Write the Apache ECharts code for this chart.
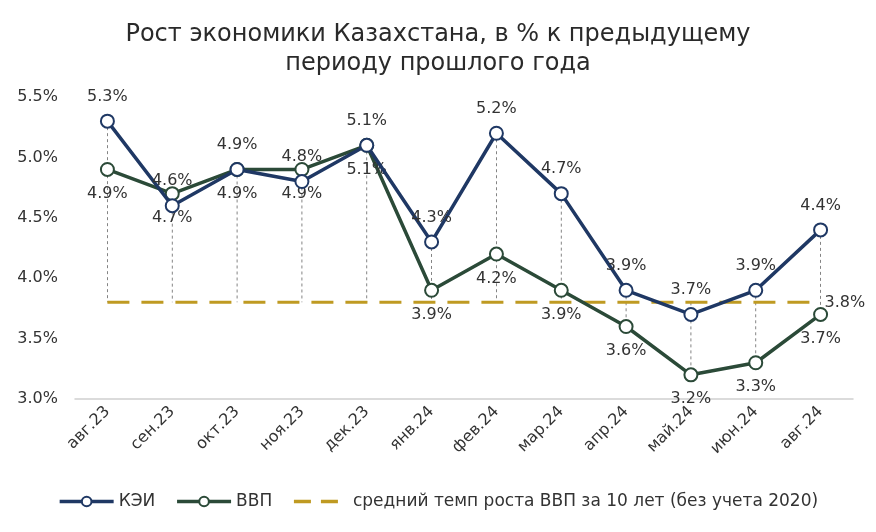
<!DOCTYPE html>
<html><head><meta charset="utf-8">
<script src="https://cdn.jsdelivr.net/npm/echarts@6/dist/echarts.min.js"></script>
<style>html,body{margin:0;padding:0;background:#fff}#c{width:876px;height:532px}</style>
</head><body><div id="c"></div>
<script>
const categories = ['авг.23','сен.23','окт.23','ноя.23','дек.23','янв.24','фев.24','мар.24','апр.24','май.24','июн.24','авг.24'];
const keiValues = [5.3,4.6,4.9,4.8,5.1,4.3,5.2,4.7,3.9,3.7,3.9,4.4];
const gdpValues = [4.9,4.7,4.9,4.9,5.1,3.9,4.2,3.9,3.6,3.2,3.3,3.7];
const avgValues = [3.8,3.8,3.8,3.8,3.8,3.8,3.8,3.8,3.8,3.8,3.8,3.8];
const seriesNames = ['КЭИ','ВВП','средний темп роста ВВП за 10 лет (без учета 2020)'];
const titleText = 'Рост экономики Казахстана, в % к предыдущему\nпериоду прошлого года';

const FONT = 'DejaVu Sans';
const navy = '#1F3864', green = '#2B4A38', gold = '#BF9A22';
const dropData = categories.map((c,i)=>{
  const v=[keiValues[i],gdpValues[i],avgValues[i]];
  return [i, Math.max(...v), Math.min(...v)];
});
const lbl = (pos)=>({show:true,position:pos,distance:9,fontFamily:FONT,fontSize:16,color:'#333',
  formatter:p=>p.value.toFixed(1)+'%'});
const chart = echarts.init(document.getElementById('c'));
chart.setOption({
  animation:false,
  title:{text:titleText,left:'center',top:15,textStyle:{fontFamily:FONT,fontSize:24,fontWeight:'normal',color:'#2a2a2a',lineHeight:29}},
  grid:{left:75,right:23,top:97,bottom:133},
  legend:{bottom:17,left:'center',itemWidth:54,itemHeight:12,itemGap:20,
    textStyle:{fontFamily:FONT,fontSize:17,color:'#333'},
    data:[{name:seriesNames[0],lineStyle:{width:3.5}},{name:seriesNames[1],lineStyle:{width:3.5}},
      {name:seriesNames[2],lineStyle:{type:[17,10],width:3.5},itemStyle:{opacity:0}}]},
  xAxis:{type:'category',data:categories,boundaryGap:true,
    axisLine:{lineStyle:{color:'#d0d0d0',width:1.5}},axisTick:{show:false},
    axisLabel:{rotate:45,fontFamily:FONT,fontSize:16,color:'#333',margin:10}},
  yAxis:{type:'value',min:3.0,max:5.5,interval:0.5,splitLine:{show:false},
    axisLine:{show:false},axisTick:{show:false},
    axisLabel:{fontFamily:FONT,fontSize:16,color:'#333',margin:17,formatter:v=>v.toFixed(1)+'%'}},
  series:[
    {type:'custom',name:'drop',silent:true,z:1,data:dropData,encode:{x:0,y:[1,2]},
      renderItem:(params,api)=>{
        const a=api.coord([api.value(0),api.value(1)]);
        const b=api.coord([api.value(0),api.value(2)]);
        return {type:'line',shape:{x1:a[0],y1:a[1],x2:b[0],y2:b[1]},
          style:{stroke:'#666',lineWidth:0.8,lineDash:[3,3]}};
      }},
    {type:'line',name:seriesNames[2],data:avgValues,z:2,symbol:'none',
      lineStyle:{color:gold,width:3,type:[22,12]},itemStyle:{color:gold},
      endLabel:{show:true,distance:4,fontFamily:FONT,fontSize:16,color:'#333',formatter:'3.8%'}},
    {type:'line',name:seriesNames[1],data:gdpValues,z:3,symbol:'circle',symbolSize:13,
      lineStyle:{color:green,width:3.5},itemStyle:{color:'#fff',borderColor:green,borderWidth:2},
      label:lbl('bottom')},
    {type:'line',name:seriesNames[0],data:keiValues,z:4,symbol:'circle',symbolSize:13,
      lineStyle:{color:navy,width:3.5},itemStyle:{color:'#fff',borderColor:navy,borderWidth:2},
      label:lbl('top')}
  ]
});
</script></body></html>
